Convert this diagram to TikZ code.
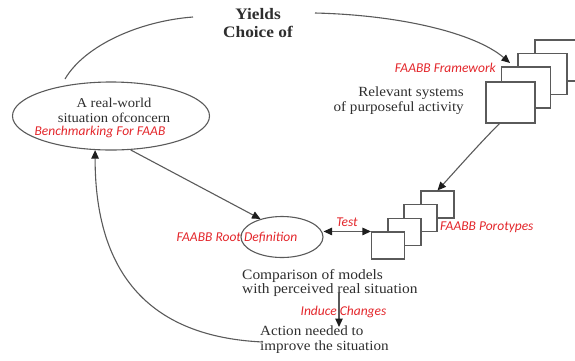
\documentclass[tikz,border=0pt]{standalone}
\usepackage{fontspec}
\setmainfont{Liberation Serif}[FakeStretch=1.08]
\newfontfamily\redfont{Carlito}
\usetikzlibrary{arrows.meta,shapes.geometric}
\definecolor{linegray}{HTML}{5A5A5A}
\definecolor{tipblack}{HTML}{1E1E1E}
\definecolor{txtgray}{HTML}{2E2E2E}
\definecolor{redtxt}{HTML}{E3262B}
\begin{document}
\begin{tikzpicture}[x=1pt,y=-1pt,
  conn/.style={draw=linegray, line width=1.1pt},
  tip/.style={-{Triangle[length=8.5pt,width=7.5pt,color=tipblack]}},
  bothtips/.style={{Triangle[length=8.5pt,width=7.5pt,color=tipblack]}-{Triangle[length=8.5pt,width=7.5pt,color=tipblack]}},
  bigbox/.style={draw=linegray, line width=1.1pt, fill=white, minimum width=49pt, minimum height=41pt, inner sep=0pt},
  smallbox/.style={draw=linegray, line width=1.1pt, fill=white, minimum width=33pt, minimum height=27pt, inner sep=0pt},
  oval/.style={ellipse, draw=linegray, line width=1.1pt, inner sep=0pt},
  blk/.style={text=txtgray, font=\fontsize{14}{15}\selectfont, inner sep=0pt},
  redlabel/.style={text=redtxt, font=\redfont\itshape\fontsize{13.5}{15}\selectfont, inner sep=0pt}
]
\useasboundingbox (0,0) rectangle (575,360);
\clip (0,0) rectangle (575,360);

% top title
\node[blk, font=\fontsize{16}{18}\selectfont\bfseries, align=center] (yields) at (258,23) {Yields\\Choice of};

% big ellipse
\node[oval, minimum width=197pt, minimum height=68pt] (real) at (111,116) {};
\node[blk, font=\fontsize{13.5}{15}\selectfont, align=center] (realtxt) at (114,110) {A real-world\\situation ofconcern};
\node[redlabel] (bench) at (100,132) {Benchmarking For FAAB};

% big box stack
\node[bigbox] (fw4) at (559.5,60.5) {};
\node[bigbox] (fw3) at (542.5,74) {};
\node[bigbox] (fw2) at (526,87.5) {};
\node[bigbox] (fw1) at (510.5,102.5) {};
\node[redlabel, anchor=east] (fwlab) at (496,68) {FAABB Framework};
\node[blk, align=right, anchor=east] (rel) at (464,101) {Relevant systems\\of purposeful activity};

% small box stack
\node[smallbox] (sb4) at (437.5,204.5) {};
\node[smallbox] (sb3) at (420.5,218) {};
\node[smallbox] (sb2) at (404.5,232) {};
\node[smallbox] (sb1) at (388,245.5) {};
\node[redlabel, anchor=west] (protlab) at (440,227) {FAABB Porotypes};

% small ellipse
\node[oval, minimum width=82pt, minimum height=41pt] (rootov) at (282,237) {};
\node[redlabel] (rootlab) at (237,238) {FAABB Root Definition};
\node[redlabel] (testlab) at (347,222) {Test};

% comparison text
\node[blk, align=left, anchor=west, font=\fontsize{14.3}{13.5}\selectfont] (cmp) at (242,283) {Comparison of models\\with perceived real situation};
\node[redlabel] (indlab) at (343.5,312) {Induce Changes};
\node[blk, align=left, anchor=west] (act) at (260,340) {Action needed to\\improve the situation};

% coordinates
\coordinate (arcA) at (65,79);
\coordinate (arcB) at (193,17);
\coordinate (arcC) at (315,13);
\coordinate (arcD) at (510,63);
\coordinate (fwout) at (500,123);
\coordinate (indtop) at (339,293);
\coordinate (indbot) at (339,327);
\coordinate (actout) at (263,342);

% connectors
\draw[conn] (arcA) .. controls (85,45) and (140,21) .. (arcB);
\draw[conn,tip] (arcC) .. controls (400,15) and (475,33) .. (arcD);
\draw[conn,tip] (fwout) .. controls (480,143) and (458,168) .. (sb4.north);
\draw[conn,tip] (real.300) -- (rootov.140);
\draw[conn,bothtips] (rootov.east |- sb1.north west) -- (sb1.north west);
\draw[conn,tip] (indtop) -- (indbot);
\draw[conn,tip] (actout) .. controls (175,338) and (95,298) .. (real.245);
\end{tikzpicture}
\end{document}
